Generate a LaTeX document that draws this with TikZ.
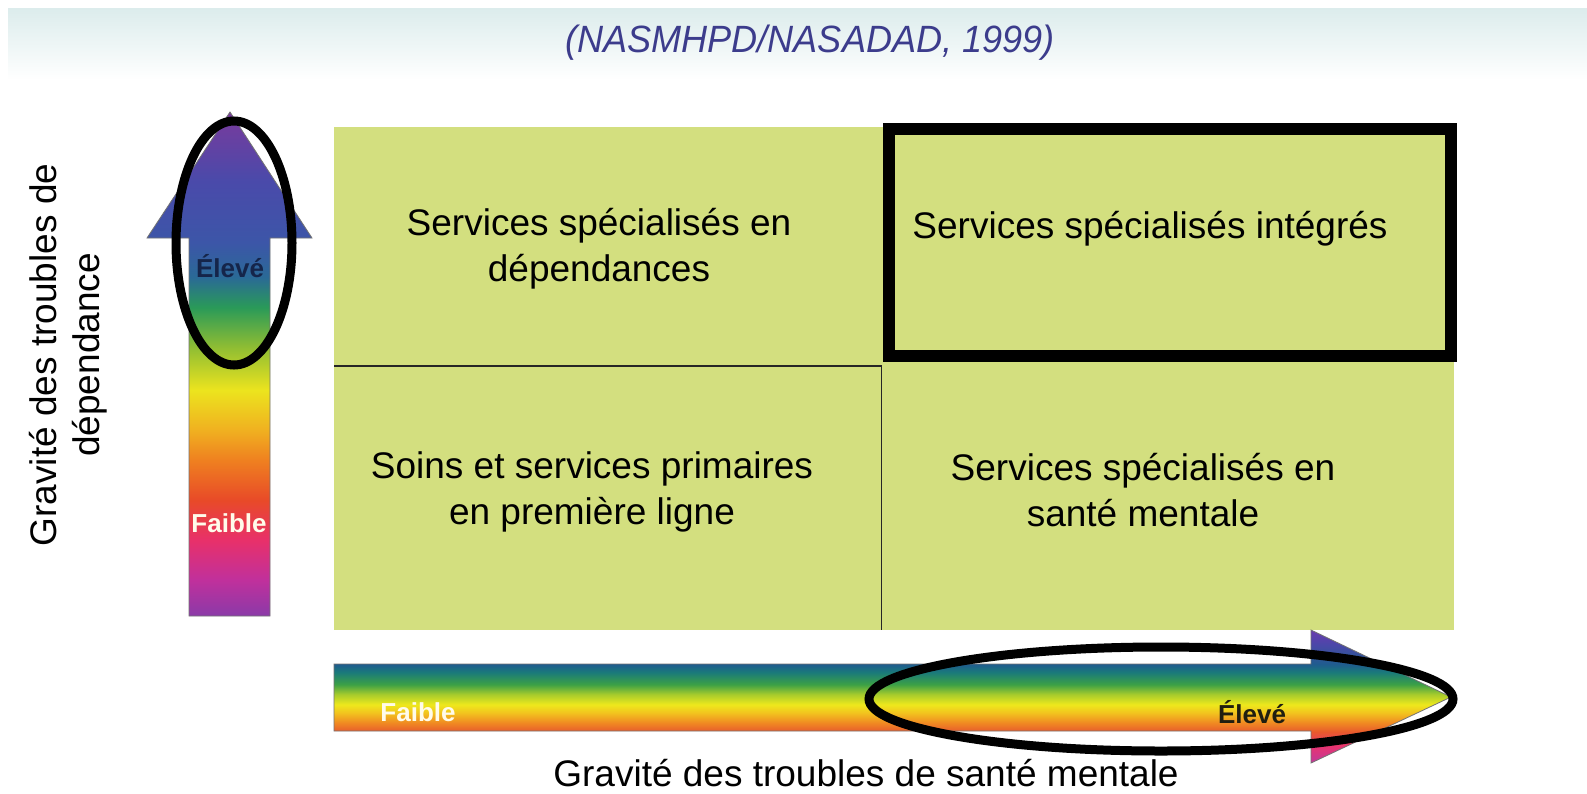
\documentclass[tikz,border=0pt]{standalone}
\usepackage{fontspec}
\setmainfont{Liberation Sans}
\usetikzlibrary{shadings}
\definecolor{cellfill}{HTML}{D3DF7F}
\definecolor{titleblue}{HTML}{3C3C8C}
\definecolor{bandtop}{HTML}{DCECEC}
\definecolor{navytxt}{HTML}{15254A}
\definecolor{darktxt}{HTML}{201E10}
\definecolor{palewhite}{HTML}{FFFBEA}
% vertical arrow colours (bottom -> top)
\definecolor{va01}{HTML}{8A3AA8}
\definecolor{va02}{HTML}{C0309C}
\definecolor{va03}{HTML}{E8306A}
\definecolor{va04}{HTML}{E84A28}
\definecolor{va05}{HTML}{EF8020}
\definecolor{va06}{HTML}{F0B020}
\definecolor{va07}{HTML}{ECE41E}
\definecolor{va08}{HTML}{8CBC34}
\definecolor{va09}{HTML}{2A9A58}
\definecolor{va10}{HTML}{2A6A96}
\definecolor{va11}{HTML}{3C56A8}
\definecolor{va12}{HTML}{4A4AAA}
\definecolor{va13}{HTML}{7A3A9C}
% horizontal arrow colours (bottom -> top)
\definecolor{ha01}{HTML}{C0389A}
\definecolor{ha02}{HTML}{E83470}
\definecolor{ha03}{HTML}{E85A2C}
\definecolor{ha04}{HTML}{F08A22}
\definecolor{ha05}{HTML}{F2C41E}
\definecolor{ha06}{HTML}{EEE81C}
\definecolor{ha07}{HTML}{A8CC2C}
\definecolor{ha08}{HTML}{3CA046}
\definecolor{ha09}{HTML}{1A7A7A}
\definecolor{ha10}{HTML}{1F5C8E}
\definecolor{ha11}{HTML}{4A48A8}
\definecolor{ha12}{HTML}{6A3AB0}
\pgfdeclareverticalshading{vgrad}{100bp}{color(0bp)=(va01); color(25bp)=(va01);
 color(28.56bp)=(va02); color(32.52bp)=(va03); color(36.49bp)=(va04);
 color(40.45bp)=(va05); color(43.42bp)=(va06); color(47.4bp)=(va07);
 color(51.8bp)=(va08); color(55.6bp)=(va09); color(58.6bp)=(va10);
 color(62.0bp)=(va11); color(68.17bp)=(va12); color(75bp)=(va13); color(100bp)=(va13)}
\pgfdeclareverticalshading{hgrad}{100bp}{color(0bp)=(ha01); color(25bp)=(ha01);
 color(31.44bp)=(ha02); color(36.74bp)=(ha03); color(40.15bp)=(ha04);
 color(43.94bp)=(ha05); color(46.97bp)=(ha06); color(50.76bp)=(ha07);
 color(54.55bp)=(ha08); color(59.09bp)=(ha09); color(62.12bp)=(ha10);
 color(69.32bp)=(ha11); color(75bp)=(ha12); color(100bp)=(ha12)}
\tikzset{
  boxtxt/.style={align=center, font=\fontsize{37}{46}\selectfont, inner sep=0pt},
  axistxt/.style={align=center, font=\fontsize{37}{43}\selectfont, inner sep=0pt},
  lvl/.style={font=\fontsize{26}{26}\selectfont\bfseries, inner sep=0pt},
  cell/.style={fill=cellfill, draw=none},
  ring/.style={draw=black, line width=9pt},
  gradarrow/.style={draw=black!55, line width=0.8pt},
}
\begin{document}
\begin{tikzpicture}[x=1pt,y=-1pt]
\useasboundingbox (0,0) rectangle (1587,793);
\fill[white] (0,0) rectangle (1587,793);
% top band
\shade[top color=bandtop, bottom color=white] (8,8) rectangle (1587,80);
\node[font=\fontsize{38}{38}\selectfont\itshape, text=titleblue, xscale=0.95, anchor=base, inner sep=0pt] (title) at (810,52) {(NASMHPD/NASADAD, 1999)};
% grid cells
\path[cell] (334,126.5) rectangle (1454,629.5);
\draw[line width=1.5pt, black!85] (334,366) -- (881.5,366);
\draw[line width=1.5pt, black!85] (881.5,366) -- (881.5,629.5);
\draw[line width=12pt, black] (888.5,128.5) rectangle (1451,356);
% cell texts
\node[boxtxt] (tl) at (599,249) {Services spécialisés en\\dépendances};
\node[boxtxt, anchor=base] (tr) at (1150,238) {Services spécialisés intégrés};
\node[boxtxt] (bl) at (592,492) {Soins et services primaires\\en première ligne};
\node[boxtxt] (br) at (1143,490) {Services spécialisés en\\santé mentale};
% vertical arrow
\path[shading=vgrad, gradarrow] (189,616) -- (189,238) -- (147,238) -- (230,112) -- (312,238) -- (270,238) -- (270,616) -- cycle;
\node[lvl, text=navytxt] (vhigh) at (230,266) {Élevé};
\node[lvl, text=palewhite] (vlow) at (229,523) {Faible};
\draw[ring] (234,243) ellipse [x radius=58, y radius=122];
% horizontal arrow
\path[shading=hgrad, gradarrow] (334,664) -- (1311,664) -- (1311,630) -- (1451,697) -- (1311,763) -- (1311,731) -- (334,731) -- cycle;
\node[lvl, text=palewhite] (hlow) at (418,712) {Faible};
\node[lvl, text=darktxt] (hhigh) at (1252,712) {Élevé};
\draw[ring] (1161,699) ellipse [x radius=292, y radius=52];
% axis labels
\node[axistxt, rotate=90] (vlabel) at (68,355) {Gravité des troubles de\\dépendance};
\node[axistxt, anchor=base] (hlabel) at (866,786) {Gravité des troubles de santé mentale};
\end{tikzpicture}
\end{document}
